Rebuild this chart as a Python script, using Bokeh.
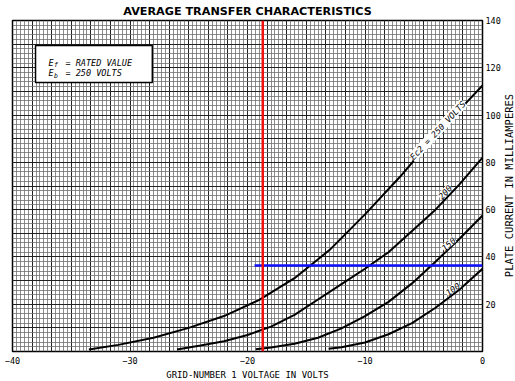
import numpy as np
from bokeh.plotting import figure
from bokeh.layouts import row
from bokeh.models import FixedTicker, Label, BoxAnnotation, Range1d, Span
from bokeh.embed import file_html
from bokeh.resources import INLINE

# ---- data ----
x_ticks = [-40, -30, -20, -10, 0]
y_ticks = [20, 40, 60, 80, 100, 120, 140]

v_250 = [-33.5, -31, -28, -25, -22, -19, -16, -13, -10, -7, -4, -2, 0]
i_250 = [0.8, 2.8, 5.8, 10, 15, 21.8, 31, 43, 58, 74, 91.5, 102, 112.5]

v_200 = [-26, -24, -22, -20, -18, -16, -14, -12, -10, -8, -6, -4, -2, 0]
i_200 = [0.8, 2.5, 4.3, 7, 10.5, 15.5, 22, 28.5, 35, 42, 51, 60, 70.5, 82]

v_150 = [-19.3, -18, -16, -14, -12, -10, -8, -6, -4, -2, 0]
i_150 = [1, 1.7, 3.3, 5.8, 9.8, 15, 21, 28.8, 38, 47.5, 57.5]

v_100 = [-13.1, -12, -10, -8, -6, -4, -2, 0]
i_100 = [1.2, 1.8, 3.8, 7.3, 12, 18.5, 26, 35]

op_grid_v = -18.7          # red vertical marker
op_current = 36.4          # blue horizontal marker
op_line_start = -19.4

curve_labels = ["Ec2 = 250 VOLTS", "200", "150", "100"]
label_v = [-3.8, -3.2, -2.9, -2.55]
label_i = [93.5, 67.5, 45.5, 26.5]
label_angle = [47, 48, 42, 36]

y_title = "PLATE CURRENT IN MILLIAMPERES"
x_title = "GRID-NUMBER 1 VOLTAGE IN VOLTS"

MONO = "DejaVu Sans Mono"

p = figure(frame_width=470, frame_height=331,
           x_range=Range1d(-40, 0), y_range=Range1d(0, 140),
           y_axis_location="right",
           output_backend="svg", toolbar_location=None,
           title="AVERAGE TRANSFER CHARACTERISTICS",
           min_border_left=12, min_border_right=19,
           min_border_top=0, min_border_bottom=0)

p.title.align = "center"
p.title.text_font = "DejaVu Sans"
p.title.text_font_size = "11.2px"
p.title.text_font_style = "bold"
p.title.text_color = "black"
p.title.standoff = 5

p.outline_line_color = "black"
p.outline_line_width = 1.5
p.outline_line_alpha = 1

# graph-paper grid
gx = list(np.linspace(-40, 0, 121))
gy = list(np.arange(0, 141, 2))
p.xgrid.ticker = FixedTicker(ticks=gx[::5], minor_ticks=gx)
p.ygrid.ticker = FixedTicker(ticks=gy[::5], minor_ticks=gy)
for g in (p.xgrid, p.ygrid):
    g.grid_line_color = "#222222"
    g.grid_line_width = 1
    g.minor_grid_line_color = "#707070"
    g.minor_grid_line_width = 0.8

# axes
for ax in (p.xaxis, p.yaxis):
    ax.axis_line_color = None
    ax.major_tick_out = 0
    ax.major_tick_in = 0
    ax.minor_tick_out = 0
    ax.minor_tick_in = 0
    ax.major_label_text_font = MONO
    ax.major_label_text_font_size = "8.5px"
    ax.major_label_text_color = "black"
    ax.axis_label_text_font = MONO
    ax.axis_label_text_font_style = "normal"
    ax.axis_label_text_color = "black"

p.xaxis.ticker = FixedTicker(ticks=x_ticks)
p.xaxis.major_label_standoff = 5
p.xaxis.axis_label = x_title
p.xaxis.axis_label_text_font_size = "9px"
p.xaxis.axis_label_standoff = 3

p.yaxis.ticker = FixedTicker(ticks=y_ticks)
p.yaxis.major_label_standoff = 3

# curves
for v, i in ((v_250, i_250), (v_200, i_200), (v_150, i_150), (v_100, i_100)):
    p.line(v, i, line_color="black", line_width=2)

# operating point markers
p.segment(x0=[op_line_start], y0=[op_current], x1=[0], y1=[op_current],
          line_color="#1010ff", line_width=2.5)
p.add_layout(Span(location=op_grid_v, dimension="height",
                  line_color="#f01010", line_width=2.5))

# curve labels
for t, lv, li, ang in zip(curve_labels, label_v, label_i, label_angle):
    p.add_layout(Label(x=lv, y=li, text=t, angle=ang, angle_units="deg",
                       text_align="center", text_baseline="middle",
                       text_font=MONO, text_font_size="8.5px",
                       text_font_style="italic", text_color="black",
                       background_fill_color="white", background_fill_alpha=1))

# conditions box
p.add_layout(BoxAnnotation(left=-38.04, right=-28.1, bottom=113.8, top=129.4,
                           fill_color="white", fill_alpha=1,
                           line_color="black", line_width=1.5, line_alpha=1))
box_rows = [("E", "f", "= RATED VALUE", 122.1), ("E", "b", "= 250 VOLTS", 117.6)]
for main, sub, rest, yy in box_rows:
    p.add_layout(Label(x=-36.94, y=yy, text=main, text_align="left",
                       text_baseline="middle", text_font=MONO, text_color="black",
                       text_font_size="8.5px", text_font_style="italic"))
    p.add_layout(Label(x=-36.94, y=yy, x_offset=5.5, y_offset=-2.5, text=sub,
                       text_align="left", text_baseline="middle", text_color="black",
                       text_font=MONO, text_font_size="6.5px",
                       text_font_style="italic"))
    p.add_layout(Label(x=-35.49, y=yy, text=rest, text_align="left",
                       text_baseline="middle", text_font=MONO, text_color="black",
                       text_font_size="8.5px", text_font_style="italic"))

# narrow side strip carrying the right-hand axis title (reads bottom-to-top)
side = figure(width=13, height=381, x_range=Range1d(0, 1), y_range=Range1d(0, 1),
              output_backend="svg", toolbar_location=None,
              min_border=0)
side.axis.visible = False
side.grid.visible = False
side.outline_line_color = None
side.add_layout(Label(x=0.5, y=0.5, x_offset=-1, text=y_title, angle=90,
                      angle_units="deg", text_align="center",
                      text_baseline="middle", text_font=MONO,
                      text_font_size="10.5px", text_color="black"))

layout = row(p, side, spacing=0)
open("out.html", "w").write(file_html(layout, INLINE))
